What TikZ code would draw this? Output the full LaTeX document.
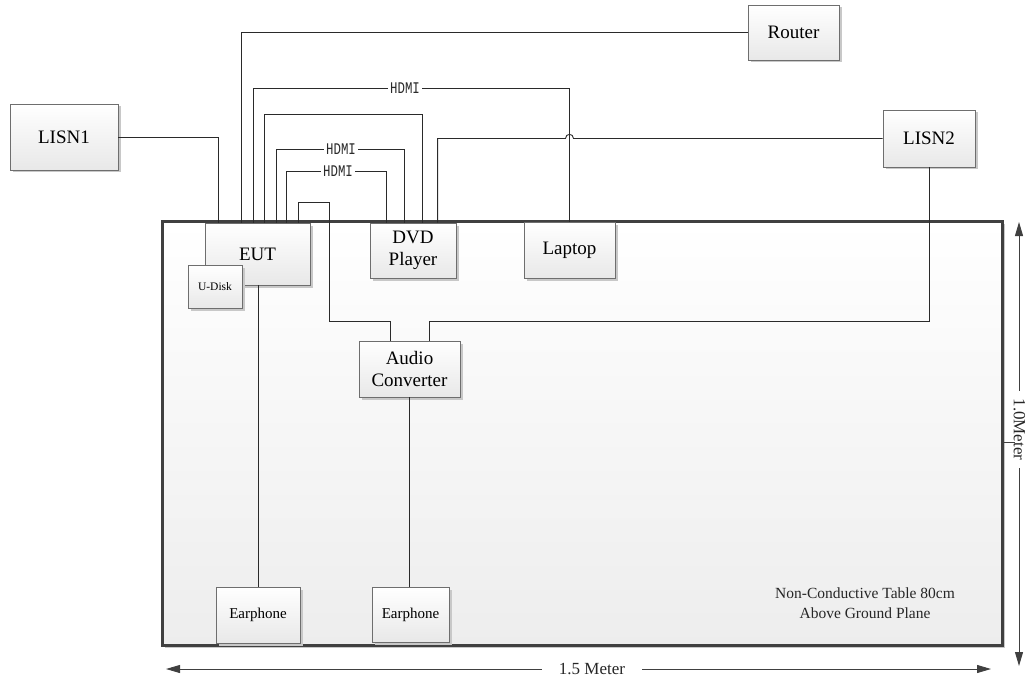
\documentclass[tikz,border=0pt]{standalone}
\usepackage{fontspec}
\setmainfont{Liberation Serif}
\newfontfamily\hdmifont{Liberation Mono}
\usetikzlibrary{shadows,arrows.meta}
\definecolor{wire}{HTML}{2A2A2A}
\definecolor{boxline}{HTML}{6E6E6E}
\definecolor{tableline}{HTML}{404040}
\definecolor{shadowc}{HTML}{C8C8C8}
\begin{document}
\begin{tikzpicture}[x=1pt,y=-1pt,
  dev/.style={draw=boxline,line width=0.9pt,top color=white,bottom color=black!9,
    inner sep=0pt,align=center,font=\fontsize{19}{22}\selectfont,
    drop shadow={shadow xshift=2.5pt,shadow yshift=-2.5pt,fill=shadowc,opacity=1}},
  smalldev/.style={dev,font=\fontsize{15}{18}\selectfont},
  tinydev/.style={dev,font=\fontsize{11.5}{14}\selectfont},
  wireline/.style={draw=wire,line width=0.9pt},
  lbl/.style={fill=white,inner xsep=2pt,inner ysep=0pt,font=\hdmifont\fontsize{13}{13}\selectfont,text=wire},
  dimline/.style={draw=black!75,line width=0.9pt},
  dimarrow/.style={dimline,{Triangle[length=14pt,width=8pt]}-{Triangle[length=14pt,width=8pt]}},
  dimlbl/.style={fill=white,font=\fontsize{17}{17}\selectfont,text=black!85,inner ysep=1pt},
]
\path[use as bounding box] (0,0) rectangle (1030,679);

% table
\node[draw=tableline,line width=3pt,top color=white,bottom color=black!7,
  minimum width=840pt,minimum height=424pt,inner sep=0pt,
  drop shadow={shadow xshift=3pt,shadow yshift=-3pt,fill=shadowc,opacity=1}] (table) at (582,433) {};
\node[font=\fontsize{15.5}{20}\selectfont,align=center,text=black!85] (tabletext) at (865,603)
  {Non-Conductive Table 80cm\\Above Ground Plane};

% devices
\node[dev,minimum width=108pt,minimum height=66pt] (LISN1) at (64,137) {LISN1};
\node[dev,minimum width=91pt,minimum height=55pt] (Router) at (793.5,32.5) {Router};
\node[dev,minimum width=92pt,minimum height=57pt] (LISN2) at (929,138.5) {LISN2};
\node[dev,minimum width=105pt,minimum height=62pt] (EUT) at (257.5,254) {EUT};
\node[tinydev,minimum width=54pt,minimum height=43pt] (UDisk) at (215,286.5) {U-Disk};
\node[dev,minimum width=86pt,minimum height=55pt] (DVD) at (413,250.5) {DVD\\Player};
\node[dev,minimum width=91pt,minimum height=56pt] (Laptop) at (569.5,250) {Laptop};
\node[dev,minimum width=101pt,minimum height=56pt] (Audio) at (409.5,369) {Audio\\Converter};
\node[smalldev,minimum width=84pt,minimum height=56pt] (Ear1) at (258,615) {Earphone};
\node[smalldev,minimum width=77pt,minimum height=55pt] (Ear2) at (410.5,614.5) {Earphone};

% levels
\coordinate (yH1) at (0,88);
\coordinate (yP) at (0,114);
\coordinate (yH2) at (0,149);
\coordinate (yH3) at (0,171);
\coordinate (yLoop) at (0,202);
\coordinate (yAudio) at (0,321);

% connectors
\draw[wireline] (LISN1.east) -| ([xshift=14pt]EUT.north west);
\draw[wireline] (Router.west) -| ([xshift=37pt]EUT.north west);
\draw[wireline] ([xshift=49pt]EUT.north west) |- (Laptop.north |- yH1) -- (Laptop.north);
\draw[wireline] ([xshift=60pt]EUT.north west) |- ([xshift=53pt]DVD.north west |- yP) -- ([xshift=53pt]DVD.north west);
\draw[wireline] ([xshift=72pt]EUT.north west) |- ([xshift=35pt]DVD.north west |- yH2) -- ([xshift=35pt]DVD.north west);
\draw[wireline] ([xshift=82pt]EUT.north west) |- ([xshift=17pt]DVD.north west |- yH3) -- ([xshift=17pt]DVD.north west);
\draw[wireline] ([xshift=94pt]EUT.north west) |- ([xshift=125pt]EUT.north west |- yLoop)
  |- ([xshift=32pt]Audio.north west |- yAudio) -- ([xshift=32pt]Audio.north west);
\draw[wireline] ([xshift=68pt]DVD.north west) |- ([xshift=-4pt]Laptop.north |- LISN2.west)
  .. controls ([xshift=-4pt,yshift=5.5pt]Laptop.north |- LISN2.west) and ([xshift=4pt,yshift=5.5pt]Laptop.north |- LISN2.west)
  .. ([xshift=4pt]Laptop.north |- LISN2.west) -- (LISN2.west);
\draw[wireline] (LISN2.south) |- ([xshift=71pt]Audio.north west |- yAudio) -- ([xshift=71pt]Audio.north west);
\draw[wireline] (Ear1.north) -- (Ear1.north |- EUT.south);
\draw[wireline] (Audio.south) -- (Audio.south |- Ear2.north);

% HDMI labels
\node[lbl] (hdmiA) at (405,88) {\scalebox{0.95}[1.25]{HDMI}};
\node[lbl] (hdmiB) at (341,149) {\scalebox{0.95}[1.25]{HDMI}};
\node[lbl] (hdmiC) at (338,171) {\scalebox{0.95}[1.25]{HDMI}};

% dimensions
\coordinate (wl) at (166,669);
\coordinate (wr) at (991,669);
\draw[dimarrow] (wl) -- (wr);
\node[dimlbl,inner xsep=17pt] (wlab) at (592,669) {1.5 Meter};
\coordinate (ht) at (1019,222);
\coordinate (hb) at (1019,666);
\draw[dimarrow] (ht) -- (hb);
\node[dimlbl,rotate=-90,inner xsep=8pt,inner ysep=0.5pt] (hlab) at (1019.5,429.5) {1.0Meter};
\coordinate (tickA) at (1015,442);
\draw[dimline] (table.east |- tickA) -- (tickA);
\end{tikzpicture}
\end{document}
